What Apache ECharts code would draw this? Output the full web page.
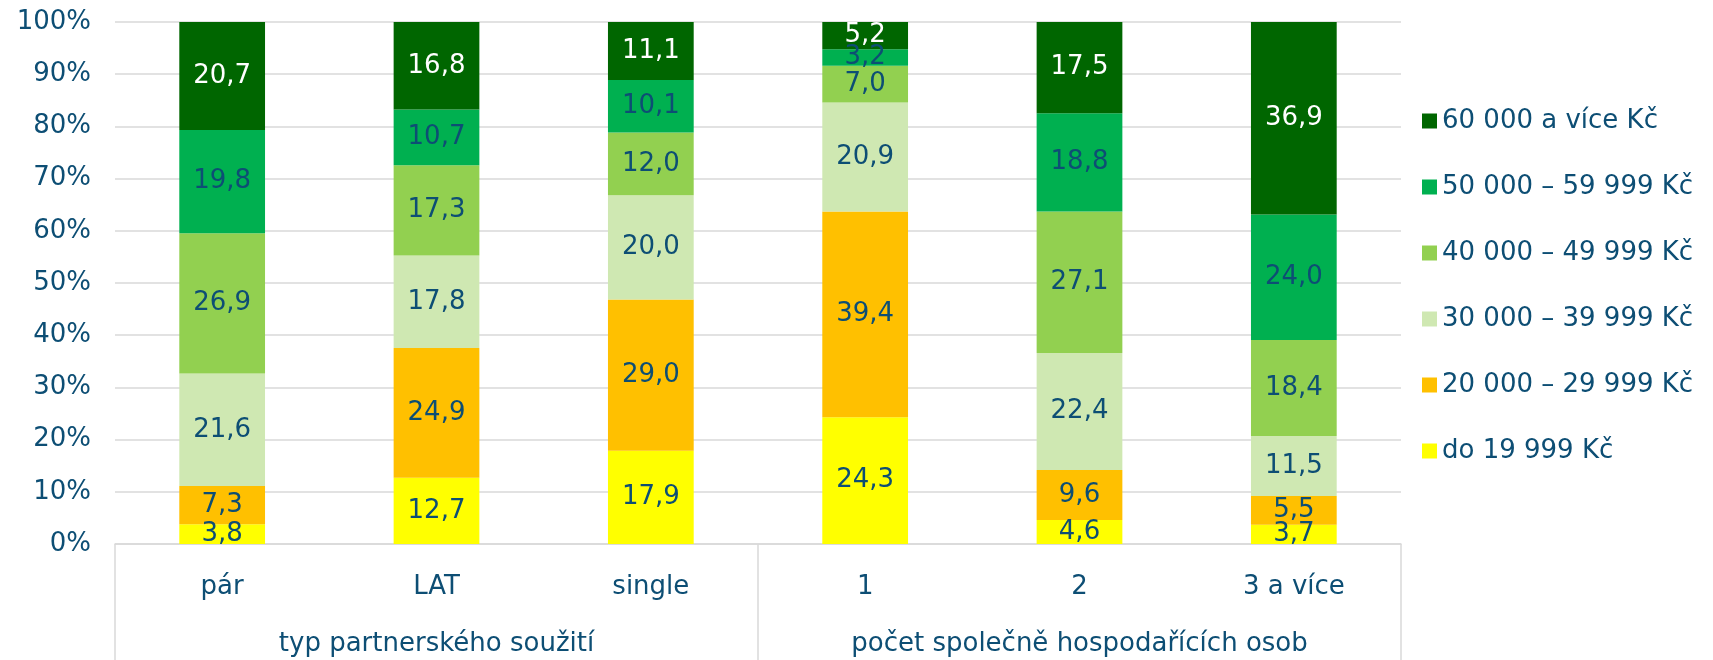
<!DOCTYPE html>
<html lang="cs">
<head>
  <meta charset="UTF-8">
  <title>Příjem domácnosti</title>
  <style>
    html, body { margin: 0; padding: 0; background: #fff; }
    #chart { width: 1713px; height: 660px; }
  </style>
</head>
<body>
  <div id="chart"></div>
  <script src="https://cdn.jsdelivr.net/npm/echarts@6/dist/echarts.min.js"></script>
  <script>
    // kategorie a skupiny na ose x
    const categories = ['pár', 'LAT', 'single', '1', '2', '3 a více']
    const groups = ['typ partnerského soužití', 'počet společně hospodařících osob']

    // pásma příjmu (zdola nahoru)
    const bands = [
      'do 19 999 Kč',
      '20 000 – 29 999 Kč',
      '30 000 – 39 999 Kč',
      '40 000 – 49 999 Kč',
      '50 000 – 59 999 Kč',
      '60 000 a více Kč'
    ]
    const colors = ['#FFFF00', '#FFC000', '#CFE8B2', '#92D050', '#00B050', '#006600']

    // hodnoty v % pro každé pásmo, po kategoriích
    const do19999 = [3.8, 12.7, 17.9, 24.3, 4.6, 3.7]
    const od20000 = [7.3, 24.9, 29.0, 39.4, 9.6, 5.5]
    const od30000 = [21.6, 17.8, 20.0, 20.9, 22.4, 11.5]
    const od40000 = [26.9, 17.3, 12.0, 7.0, 27.1, 18.4]
    const od50000 = [19.8, 10.7, 10.1, 3.2, 18.8, 24.0]
    const od60000 = [20.7, 16.8, 11.1, 5.2, 17.5, 36.9]

    const yTicks = [0, 10, 20, 30, 40, 50, 60, 70, 80, 90, 100]

    const values = [do19999, od20000, od30000, od40000, od50000, od60000]
    const textColor = '#0D4E74'
    const font = 'DejaVu Sans'
    const fs = 26

    // 100% skládaný graf - součty sloupců přepočítat na 100
    const sums = categories.map((c, i) => values.reduce((s, arr) => s + arr[i], 0))

    const series = bands.map((name, k) => ({
      name: name,
      type: 'bar',
      stack: 'total',
      barWidth: '40%',
      itemStyle: { color: colors[k] },
      label: {
        show: true,
        position: 'inside',
        color: k === 5 ? '#ffffff' : textColor,
        fontFamily: font,
        fontSize: fs,
        formatter: p => values[k][p.dataIndex].toFixed(1).replace('.', ',')
      },
      data: values[k].map((v, i) => v / sums[i] * 100)
    }))

    const chart = echarts.init(document.getElementById('chart'))
    chart.setOption({
      animation: false,
      textStyle: { fontFamily: font },
      grid: { left: 115, right: 312, top: 22, bottom: 116 },
      legend: {
        orient: 'vertical',
        left: 1417,
        top: 103,
        itemWidth: 15,
        itemHeight: 15,
        itemGap: 40,
        itemStyle: { borderWidth: 0 },
        icon: 'rect',
        data: bands.slice().reverse(),
        textStyle: { color: textColor, fontSize: fs, fontFamily: font, lineHeight: 24 }
      },
      xAxis: [
        {
          type: 'category',
          data: categories,
          axisLine: { lineStyle: { color: '#D9D9D9', width: 1.5 } },
          axisTick: { show: false },
          axisLabel: { color: textColor, fontSize: fs, fontFamily: font, margin: 30 }
        },
        {
          type: 'category',
          data: groups,
          position: 'bottom',
          axisLine: { show: false },
          axisTick: { show: true, length: 120, lineStyle: { color: '#D9D9D9', width: 1.5 } },
          axisLabel: { color: textColor, fontSize: fs, fontFamily: font, margin: 87 }
        }
      ],
      yAxis: {
        type: 'value',
        min: yTicks[0],
        max: yTicks[yTicks.length - 1],
        interval: 10,
        axisLine: { show: false },
        axisTick: { show: false },
        axisLabel: { color: textColor, fontSize: fs, fontFamily: font, margin: 24, formatter: '{value}%' },
        splitLine: { lineStyle: { color: '#D9D9D9', width: 1.5 } }
      },
      series: series
    })
  </script>
</body>
</html>
